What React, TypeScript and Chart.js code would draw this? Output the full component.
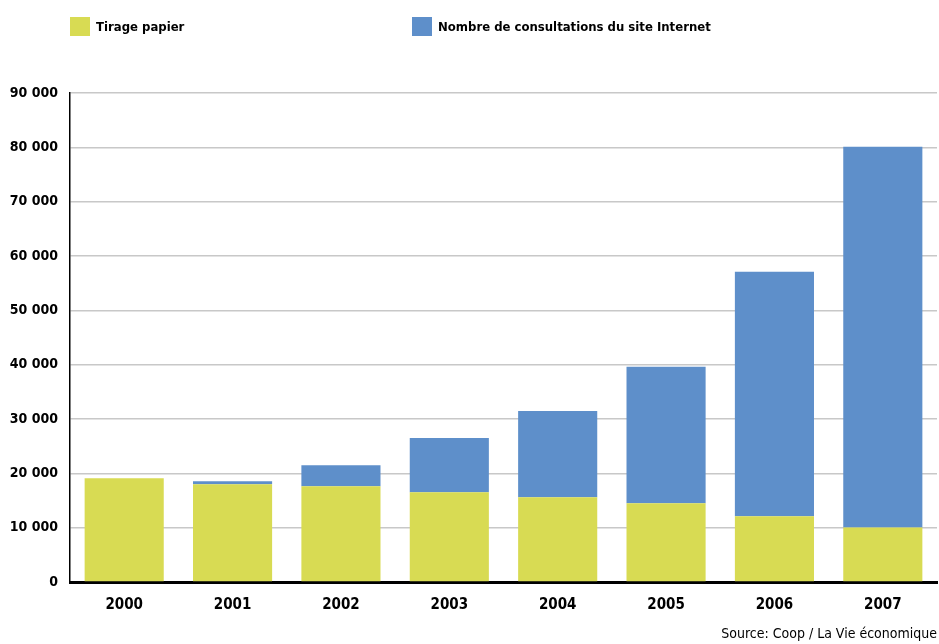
import React, { useEffect, useRef } from "react";
import { Chart, registerables } from "chart.js";

Chart.register(...registerables);

const years = ["2000", "2001", "2002", "2003", "2004", "2005", "2006", "2007"];
const tiragePapier = [19100, 18000, 17600, 16500, 15600, 14500, 12100, 10050];
const consultationsInternet = [0, 550, 3900, 10000, 15850, 25100, 45000, 70050];
const legendLabels = ["Tirage papier", "Nombre de consultations du site Internet"];
const sourceText = "Source: Coop / La Vie économique";

const YELLOW = "rgb(216,219,83)";
const BLUE = "rgb(94,143,202)";
const FONT = "'DejaVu Sans Condensed', 'DejaVu Sans', sans-serif";

export default function App() {
  const ref = useRef<HTMLCanvasElement | null>(null);

  useEffect(() => {
    document.body.style.margin = "0";
    const ctx = ref.current!.getContext("2d")!;
    const chart = new Chart(ctx, {
      type: "bar",
      data: {
        labels: years,
        datasets: [
          {
            label: legendLabels[0],
            data: tiragePapier,
            backgroundColor: YELLOW,
            borderWidth: 0,
          },
          {
            label: legendLabels[1],
            data: consultationsInternet,
            backgroundColor: BLUE,
            borderWidth: 0,
          },
        ],
      },
      options: {
        animation: false,
        responsive: false,
        maintainAspectRatio: false,
        layout: { padding: { top: 93, right: 2, left: 0, bottom: 0 } },
        datasets: { bar: { categoryPercentage: 1, barPercentage: 0.73 } },
        plugins: {
          legend: { display: false },
          tooltip: { enabled: false },
        },
        scales: {
          x: {
            stacked: true,
            grid: { display: false, drawTicks: false },
            border: { display: true, color: "#000", width: 3 },
            ticks: {
              padding: 14,
              color: "#000",
              font: { family: FONT, size: 15, weight: "bold" },
            },
            afterFit: (scale: any) => {
              scale.height = 62;
            },
          },
          y: {
            stacked: true,
            min: 0,
            max: 90000,
            grid: { color: "#c8c8c8", lineWidth: 1.5, drawTicks: false },
            border: { display: true, color: "#000", width: 1.5 },
            ticks: {
              stepSize: 10000,
              padding: 12,
              color: "#000",
              font: { family: FONT, size: 14, weight: "bold" },
              callback: (v: any) => (v === 0 ? "0" : Math.round(v / 1000) + " 000"),
            },
            afterFit: (scale: any) => {
              scale.width = 70;
            },
          },
        },
      },
    });
    return () => chart.destroy();
  }, []);

  const legendText: React.CSSProperties = {
    position: "absolute",
    top: 17,
    fontFamily: FONT,
    fontWeight: "bold",
    fontSize: 13,
    lineHeight: "19px",
    color: "#000",
    whiteSpace: "nowrap",
  };

  return (
    <div style={{ position: "relative", width: 939, height: 644, background: "#fff" }}>
      <canvas ref={ref} width={939} height={644} style={{ position: "absolute", left: 0, top: 0 }} />
      <div style={{ position: "absolute", left: 70, top: 17, width: 20, height: 19, background: YELLOW }} />
      <div style={{ ...legendText, left: 96 }}>{legendLabels[0]}</div>
      <div style={{ position: "absolute", left: 412, top: 17, width: 20, height: 19, background: BLUE }} />
      <div style={{ ...legendText, left: 438 }}>{legendLabels[1]}</div>
      <div
        style={{
          position: "absolute",
          right: 2,
          top: 625,
          fontFamily: FONT,
          fontSize: 14,
          color: "#000",
          whiteSpace: "nowrap",
        }}
      >
        {sourceText}
      </div>
    </div>
  );
}
